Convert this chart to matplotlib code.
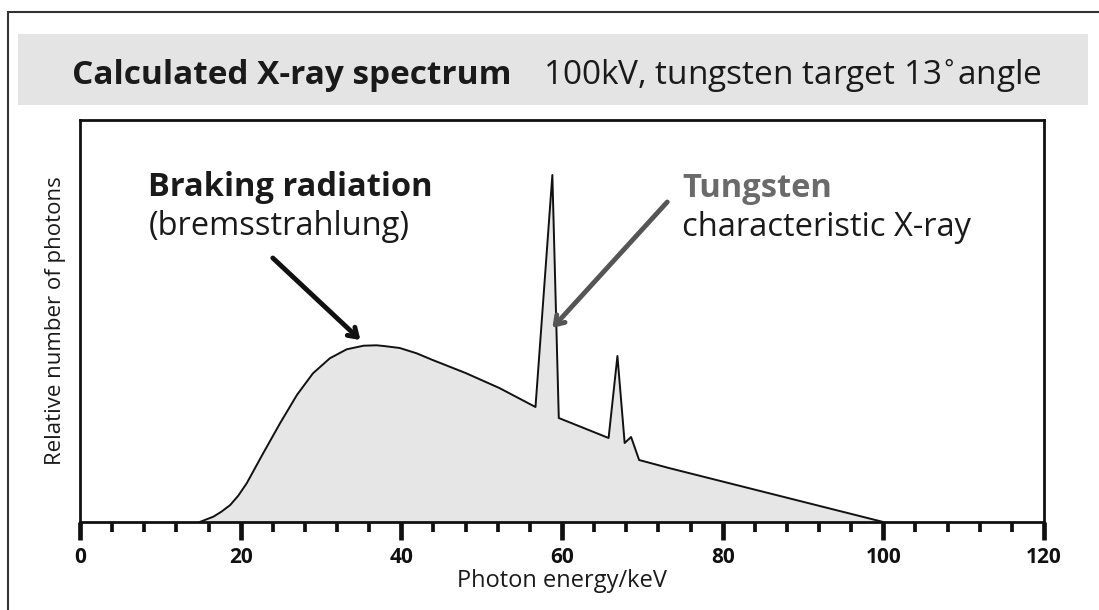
import matplotlib
matplotlib.use("Agg")
import matplotlib.pyplot as plt
from matplotlib.patches import Rectangle

# ---- data ----
energy = [14.9, 16.6, 17.6, 18.7, 19.7, 20.75, 22.8, 24.9, 27.0, 29.0, 31.1,
          33.2, 35.3, 36.9, 37.8, 39.8, 41.9, 43.9, 48.0, 52.2, 56.7, 58.8,
          59.6, 65.8, 66.9, 67.8, 68.6, 69.6, 73.3, 100]
photons = [0, 5.3, 10.3, 17, 26.3, 38.7, 68.7, 98.7, 127, 148.7, 163.7,
           172.7, 176.3, 176.7, 176, 174, 168.7, 162, 149, 134, 115, 347,
           104, 84, 166, 79, 85, 62, 54, 0]
xticks_major = [0, 20, 40, 60, 80, 100, 120]
xticks_minor = [v for v in range(0, 121, 4) if v % 20 != 0]

FONT = "Open Sans"
plt.rcParams['font.family'] = [FONT, 'DejaVu Sans']

W, H = 1099, 610
fig = plt.figure(figsize=(W / 100, H / 100), dpi=100)

def fx(px):
    return px / W

def fy(py):
    return 1 - py / H

# outer frame
fig.patches.append(Rectangle((fx(8), fy(640)), fx(1130) - fx(8), fy(12) - fy(640),
                             transform=fig.transFigure, fill=False,
                             edgecolor='#333333', lw=1.5))
# title band
fig.patches.append(Rectangle((fx(18), fy(105)), fx(1088) - fx(18), fy(34) - fy(105),
                             transform=fig.transFigure, facecolor='#e4e4e4',
                             edgecolor='none'))
fig.text(fx(72), fy(84), "Calculated X-ray spectrum", fontsize=24, fontweight='bold',
         va='baseline', ha='left', color='#1a1a1a')
fig.text(fx(543), fy(84), "100kV, tungsten target 13$^{\\circ}$angle", fontsize=24,
         va='baseline', ha='left', color='#1a1a1a')

ax = fig.add_axes([fx(80), fy(522), fx(1044) - fx(80), fy(120) - fy(522)])
ax.fill_between(energy, photons, 0, color='#e6e6e6', lw=0)
ax.plot(energy, photons, color='#111111', lw=1.4, solid_joinstyle='round')
ax.set_xlim(0, 120)
ax.set_ylim(0, 402)
ax.set_yticks([])
ax.set_xticks(xticks_major)
ax.set_xticks(xticks_minor, minor=True)
ax.tick_params(axis='x', which='major', length=13, width=3.4, direction='out',
               labelsize=15, pad=5, color='#111111', labelcolor='#111111')
ax.tick_params(axis='x', which='minor', length=7, width=2.7, direction='out',
               color='#111111')
for lab in ax.get_xticklabels():
    lab.set_fontweight('bold')
for s in ax.spines.values():
    s.set_linewidth(2)
    s.set_color('#111111')

ax.set_xlabel("Photon energy/keV", fontsize=17, labelpad=1, color='#1a1a1a')
ax.set_ylabel("Relative number of photons", fontsize=16, labelpad=10, color='#1a1a1a')

ax.text(8.5, 326, "Braking radiation", fontsize=23.5, fontweight='bold',
        va='baseline', ha='left', color='#1a1a1a')
ax.text(8.5, 287, "(bremsstrahlung)", fontsize=23.5, va='baseline', ha='left',
        color='#1a1a1a')
ax.text(75.0, 325, "Tungsten", fontsize=23.5, fontweight='bold', va='baseline',
        ha='left', color='#6a6a6a')
ax.text(75.0, 286, "characteristic X-ray", fontsize=23.5, va='baseline',
        ha='left', color='#1a1a1a')

ax.annotate("", xy=(34.9, 182), xytext=(24.0, 264),
            arrowprops=dict(arrowstyle='->,head_length=0.6,head_width=0.4',
                            color='#111111', lw=3.5, shrinkA=0, shrinkB=0))
ax.annotate("", xy=(58.8, 194), xytext=(73.1, 320),
            arrowprops=dict(arrowstyle='->,head_length=0.6,head_width=0.4',
                            color='#555555', lw=3.5, shrinkA=0, shrinkB=0))

fig.savefig("out.png", dpi=100)
